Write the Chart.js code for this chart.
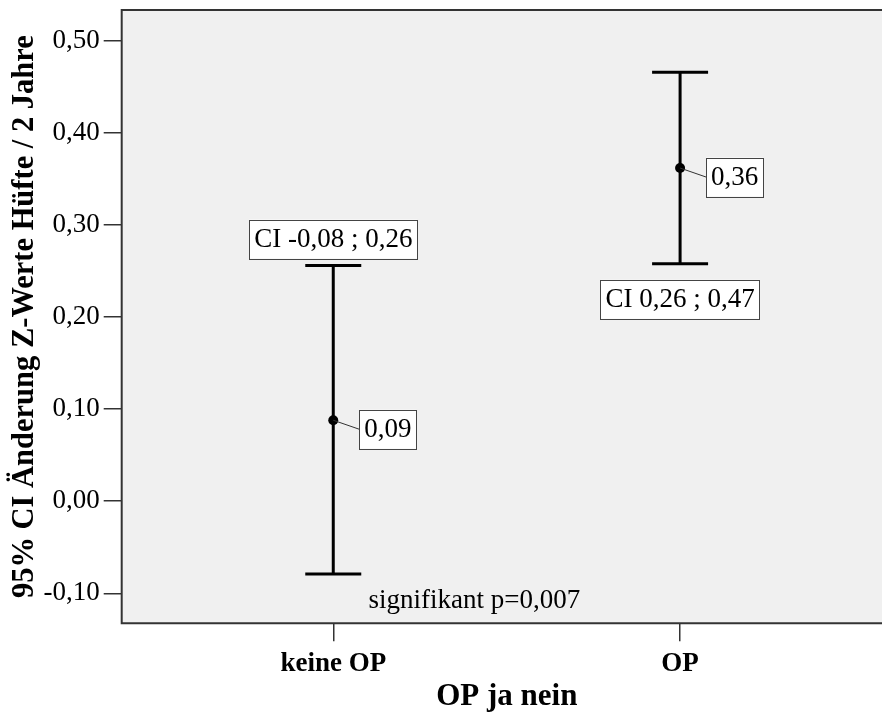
<!DOCTYPE html>
<html><head><meta charset="utf-8">
<script src="https://cdn.jsdelivr.net/npm/chart.js@4/dist/chart.umd.min.js"></script>
<style>html,body{margin:0;padding:0;background:#fff;overflow:hidden;} canvas{display:block;}</style>
</head><body>
<canvas id="c" width="882" height="717"></canvas>
<script>
const categories = ['keine OP', 'OP'];
const means = [0.088, 0.362];
const ciLower = [-0.079, 0.258];
const ciUpper = [0.256, 0.466];
const ciLabelSide = ['above', 'below'];
const yTicks = [-0.1, 0, 0.1, 0.2, 0.3, 0.4, 0.5];
const yTitle = '95% CI Änderung Z-Werte Hüfte / 2 Jahre';
const xTitle = 'OP ja nein';
const noteText = 'signifikant p=0,007';
const notePos = { x: 1.407, y: -0.108 };

const FONT = 'Liberation Serif';
const fmt = v => v.toFixed(2).replace('.', ',');

// the reference plot area continues ~10px past the right edge of the picture
const extendRight = {
  id: 'extendRight',
  afterLayout(chart) {
    const extra = 10;
    const x = chart.scales.x;
    x.right += extra;
    x.width += extra;
    chart.chartArea.right += extra;
    chart.chartArea.width += extra;
    x.configure();
  }
};

const plotFrame = {
  id: 'plotFrame',
  beforeDraw(chart) {
    const { ctx, chartArea: a } = chart;
    ctx.save();
    ctx.fillStyle = '#f0f0f0';
    ctx.fillRect(a.left, a.top, a.right - a.left, a.bottom - a.top);
    ctx.strokeStyle = '#333';
    ctx.lineWidth = 2;
    ctx.beginPath();
    ctx.moveTo(a.right + 20, a.top);
    ctx.lineTo(a.left, a.top);
    ctx.lineTo(a.left, a.bottom);
    ctx.lineTo(a.right + 20, a.bottom);
    ctx.stroke();
    ctx.restore();
  }
};

const errorBars = {
  id: 'errorBars',
  beforeDatasetsDraw(chart) {
    const { ctx, scales: { x, y } } = chart;
    ctx.save();
    ctx.strokeStyle = '#000';
    ctx.lineWidth = 3;
    categories.forEach((c, i) => {
      const px = x.getPixelForValue(i + 1);
      const top = y.getPixelForValue(ciUpper[i]);
      const bot = y.getPixelForValue(ciLower[i]);
      ctx.beginPath(); ctx.moveTo(px, top); ctx.lineTo(px, bot); ctx.stroke();
      [top, bot].forEach(py => {
        ctx.beginPath(); ctx.moveTo(px - 28, py); ctx.lineTo(px + 28, py); ctx.stroke();
      });
    });
    ctx.restore();
  }
};

function drawBox(ctx, text, cx, cy) {
  ctx.font = '27px "' + FONT + '"';
  const w = ctx.measureText(text).width + 10;
  const h = 39;
  ctx.fillStyle = '#fff';
  ctx.fillRect(cx - w / 2, cy - h / 2, w, h);
  ctx.strokeStyle = '#444';
  ctx.lineWidth = 1;
  ctx.strokeRect(Math.round(cx - w / 2) + 0.5, Math.round(cy - h / 2) + 0.5, Math.round(w), h);
  ctx.fillStyle = '#000';
  ctx.textAlign = 'center';
  ctx.textBaseline = 'middle';
  ctx.fillText(text, cx, cy + 1);
  return w;
}

const labels = {
  id: 'labels',
  afterDatasetsDraw(chart) {
    const { ctx, scales: { x, y } } = chart;
    ctx.save();
    categories.forEach((c, i) => {
      const px = x.getPixelForValue(i + 1);
      const pm = y.getPixelForValue(means[i]);
      const top = y.getPixelForValue(ciUpper[i]);
      const bot = y.getPixelForValue(ciLower[i]);
      ctx.font = '27px "' + FONT + '"';
      const mText = fmt(means[i]);
      const mw = ctx.measureText(mText).width + 10;
      ctx.strokeStyle = '#333';
      ctx.lineWidth = 1;
      ctx.beginPath(); ctx.moveTo(px, pm); ctx.lineTo(px + 26, pm + 9); ctx.stroke();
      drawBox(ctx, mText, px + 26 + mw / 2, pm + 9);
      const ciText = 'CI ' + fmt(ciLower[i]) + ' ; ' + fmt(ciUpper[i]);
      if (ciLabelSide[i] === 'above') drawBox(ctx, ciText, px, top - 7 - 19.5);
      else drawBox(ctx, ciText, px, bot + 16 + 19.5);
    });
    ctx.font = '27px "' + FONT + '"';
    ctx.fillStyle = '#000';
    ctx.textAlign = 'center';
    ctx.textBaseline = 'middle';
    ctx.fillText(noteText, x.getPixelForValue(notePos.x), y.getPixelForValue(notePos.y));
    ctx.restore();
  }
};

new Chart(document.getElementById('c'), {
  type: 'scatter',
  data: {
    datasets: [{
      data: means.map((m, i) => ({ x: i + 1, y: m })),
      pointRadius: 5,
      pointHoverRadius: 5,
      pointBackgroundColor: '#000',
      pointBorderColor: '#000',
      pointBorderWidth: 0
    }]
  },
  options: {
    responsive: false,
    animation: false,
    events: [],
    layout: { autoPadding: false, padding: { top: 10, right: 0, left: 0, bottom: 0 } },
    plugins: { legend: { display: false }, tooltip: { enabled: false } },
    scales: {
      x: {
        type: 'linear',
        min: 0.39,
        max: 2.611,
        afterBuildTicks(s) { s.ticks = categories.map((c, i) => ({ value: i + 1 })); },
        afterFit(s) { s.height = 93.7; s.paddingLeft = 0; s.paddingRight = 0; s.paddingTop = 0; s.paddingBottom = 0; },
        ticks: {
          callback: v => categories[Math.round(v) - 1] || '',
          font: { family: FONT, size: 27, weight: 'bold' },
          color: '#000',
          padding: 7,
          maxRotation: 0,
          autoSkip: false
        },
        grid: { drawOnChartArea: false, drawTicks: true, tickLength: 18, tickColor: '#333', tickWidth: 1.5, color: '#333', lineWidth: 1.5 },
        border: { display: false },
        title: { display: true, text: xTitle, font: { family: FONT, size: 31, weight: 'bold' }, color: '#000', padding: { top: 0, bottom: 1 } }
      },
      y: {
        type: 'linear',
        min: -0.1326,
        max: 0.5337,
        afterBuildTicks(s) { s.ticks = yTicks.map(v => ({ value: v })); },
        afterFit(s) { s.width = 121.7; s.paddingTop = 0; s.paddingBottom = 0; s.paddingLeft = 0; s.paddingRight = 0; },
        ticks: {
          callback: v => fmt(v),
          font: { family: FONT, size: 27 },
          color: '#000',
          padding: 4,
          autoSkip: false
        },
        grid: { drawOnChartArea: false, drawTicks: true, tickLength: 18, tickColor: '#333', tickWidth: 1.5, color: '#333', lineWidth: 1.5 },
        border: { display: false },
        title: { display: true, text: yTitle, font: { family: FONT, size: 30.5, weight: 'bold' }, color: '#000', padding: { top: 7, bottom: 0 } }
      }
    }
  },
  plugins: [extendRight, plotFrame, errorBars, labels]
});
</script>
</body></html>
